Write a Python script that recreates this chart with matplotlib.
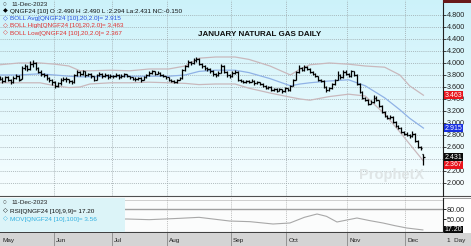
import numpy as np
import pandas as pd
import matplotlib
matplotlib.use("Agg")
import matplotlib.pyplot as plt
import matplotlib.transforms as mtransforms
from matplotlib.patches import Rectangle

# ---------------- data ----------------
holidays = ["2023-05-29", "2023-06-19", "2023-07-04", "2023-09-04", "2023-11-23"]
dates = pd.bdate_range("2023-05-03", "2023-12-11", freq="C", holidays=holidays)

opens = [3.76, 3.74, 3.70, 3.76, 3.72, 3.68, 3.75, 3.78, 3.74, 3.92,
         3.95, 3.90, 3.98, 4.00, 3.92, 3.85, 3.82, 3.80, 3.75, 3.72,
         3.68, 3.62, 3.66, 3.72, 3.74, 3.73, 3.70, 3.68, 3.80, 3.85,
         3.82, 3.86, 3.80, 3.82, 3.78, 3.72, 3.80, 3.82, 3.78, 3.80,
         3.77, 3.79, 3.78, 3.80, 3.76, 3.79, 3.81, 3.78, 3.76, 3.74,
         3.73, 3.75, 3.72, 3.76, 3.80, 3.84, 3.86, 3.82, 3.84, 3.80,
         3.78, 3.76, 3.72, 3.70, 3.68, 3.72, 3.75, 3.88, 3.95, 4.02,
         4.00, 4.05, 4.07, 3.98, 3.95, 3.92, 3.90, 3.86, 3.82, 3.80,
         3.84, 3.95, 3.85, 3.80, 3.78, 3.83, 3.85, 3.72, 3.70, 3.68,
         3.70, 3.69, 3.70, 3.66, 3.68, 3.65, 3.62, 3.58, 3.60, 3.55,
         3.57, 3.54, 3.56, 3.53, 3.58, 3.55, 3.62, 3.72, 3.85, 3.92,
         3.88, 3.94, 3.90, 3.85, 3.82, 3.78, 3.72, 3.70, 3.60, 3.55,
         3.58, 3.65, 3.72, 3.80, 3.76, 3.85, 3.82, 3.78, 3.86, 3.80,
         3.65, 3.52, 3.42, 3.38, 3.32, 3.35, 3.42, 3.38, 3.28, 3.18,
         3.12, 3.08, 3.10, 3.02, 2.95, 2.92, 2.85, 2.82, 2.80, 2.78,
         2.82, 2.70, 2.60, 2.49]
highs = [3.79, 3.76, 3.79, 3.78, 3.74, 3.78, 3.81, 3.80, 3.95, 3.98,
         3.97, 4.03, 4.05, 4.01, 3.94, 3.88, 3.84, 3.81, 3.77, 3.73,
         3.70, 3.69, 3.75, 3.77, 3.76, 3.74, 3.72, 3.82, 3.88, 3.87,
         3.89, 3.87, 3.84, 3.83, 3.79, 3.82, 3.85, 3.83, 3.83, 3.81,
         3.81, 3.80, 3.83, 3.81, 3.81, 3.83, 3.82, 3.79, 3.77, 3.76,
         3.77, 3.76, 3.78, 3.82, 3.86, 3.88, 3.87, 3.86, 3.85, 3.82,
         3.79, 3.77, 3.74, 3.71, 3.74, 3.77, 3.90, 3.97, 4.05, 4.04,
         4.08, 4.10, 4.08, 4.00, 3.97, 3.94, 3.91, 3.88, 3.84, 3.87,
         3.98, 3.96, 3.86, 3.81, 3.86, 3.88, 3.86, 3.74, 3.72, 3.72,
         3.72, 3.73, 3.71, 3.70, 3.69, 3.66, 3.63, 3.62, 3.61, 3.59,
         3.58, 3.58, 3.57, 3.60, 3.59, 3.64, 3.74, 3.87, 3.96, 3.94,
         3.97, 3.95, 3.91, 3.87, 3.83, 3.79, 3.74, 3.71, 3.62, 3.60,
         3.67, 3.74, 3.86, 3.82, 3.89, 3.88, 3.84, 3.89, 3.87, 3.81,
         3.66, 3.54, 3.44, 3.40, 3.38, 3.47, 3.45, 3.39, 3.30, 3.20,
         3.14, 3.13, 3.11, 3.04, 2.97, 2.94, 2.87, 2.85, 2.82, 2.86,
         2.84, 2.72, 2.62, 2.49]
lows = [3.71, 3.67, 3.69, 3.70, 3.65, 3.67, 3.73, 3.70, 3.73, 3.89,
        3.87, 3.89, 3.94, 3.88, 3.83, 3.79, 3.77, 3.72, 3.69, 3.64,
        3.59, 3.60, 3.64, 3.70, 3.69, 3.67, 3.65, 3.67, 3.78, 3.79,
        3.80, 3.77, 3.78, 3.75, 3.70, 3.71, 3.78, 3.75, 3.76, 3.74,
        3.75, 3.75, 3.77, 3.73, 3.75, 3.77, 3.76, 3.73, 3.71, 3.70,
        3.72, 3.69, 3.71, 3.75, 3.79, 3.82, 3.80, 3.81, 3.78, 3.76,
        3.73, 3.70, 3.68, 3.66, 3.67, 3.71, 3.74, 3.86, 3.93, 3.96,
        3.99, 4.02, 3.96, 3.92, 3.89, 3.87, 3.83, 3.79, 3.77, 3.79,
        3.83, 3.83, 3.77, 3.75, 3.77, 3.82, 3.70, 3.68, 3.66, 3.67,
        3.67, 3.68, 3.64, 3.65, 3.63, 3.60, 3.56, 3.57, 3.53, 3.54,
        3.52, 3.53, 3.50, 3.52, 3.53, 3.54, 3.61, 3.71, 3.84, 3.86,
        3.87, 3.88, 3.83, 3.80, 3.76, 3.70, 3.68, 3.58, 3.52, 3.53,
        3.57, 3.64, 3.71, 3.74, 3.75, 3.80, 3.76, 3.77, 3.78, 3.63,
        3.50, 3.40, 3.36, 3.30, 3.31, 3.34, 3.36, 3.26, 3.16, 3.10,
        3.06, 3.07, 3.00, 2.93, 2.90, 2.83, 2.80, 2.78, 2.75, 2.77,
        2.68, 2.58, 2.55, 2.294]
closes = [3.74, 3.70, 3.76, 3.72, 3.68, 3.75, 3.78, 3.72, 3.92, 3.95,
          3.90, 3.98, 4.00, 3.92, 3.85, 3.82, 3.80, 3.75, 3.72, 3.68,
          3.62, 3.66, 3.72, 3.74, 3.73, 3.70, 3.68, 3.80, 3.85, 3.82,
          3.86, 3.80, 3.82, 3.78, 3.72, 3.80, 3.82, 3.78, 3.80, 3.77,
          3.79, 3.78, 3.80, 3.76, 3.79, 3.81, 3.78, 3.76, 3.74, 3.73,
          3.75, 3.72, 3.76, 3.80, 3.84, 3.86, 3.82, 3.84, 3.80, 3.78,
          3.76, 3.72, 3.70, 3.68, 3.72, 3.75, 3.88, 3.95, 4.02, 4.00,
          4.05, 4.07, 3.98, 3.95, 3.92, 3.90, 3.86, 3.82, 3.80, 3.84,
          3.95, 3.85, 3.80, 3.78, 3.83, 3.85, 3.72, 3.70, 3.68, 3.70,
          3.69, 3.70, 3.66, 3.68, 3.65, 3.62, 3.58, 3.60, 3.55, 3.57,
          3.54, 3.56, 3.53, 3.58, 3.55, 3.62, 3.72, 3.85, 3.92, 3.88,
          3.94, 3.90, 3.85, 3.82, 3.78, 3.72, 3.70, 3.60, 3.55, 3.58,
          3.65, 3.72, 3.80, 3.76, 3.85, 3.82, 3.78, 3.86, 3.80, 3.65,
          3.52, 3.42, 3.38, 3.32, 3.35, 3.42, 3.38, 3.28, 3.18, 3.12,
          3.08, 3.10, 3.02, 2.95, 2.92, 2.85, 2.82, 2.80, 2.78, 2.82,
          2.70, 2.60, 2.58, 2.431]

# Bollinger band readings (bar position, value)
band_pos = [1, 8, 15.6, 21, 26, 30, 33.6, 41, 48, 55, 62, 68, 73, 79, 86, 91,
            98.6, 106, 109.5, 113, 120, 127, 133, 140, 145.5, 149, 154]
boll_high = [3.97, 4.00, 4.00, 3.98, 3.95, 3.87, 3.87, 3.88, 3.87, 3.90, 3.90,
             3.95, 4.08, 4.10, 4.10, 4.06, 3.95, 3.80, 3.90, 3.97, 4.00, 3.98,
             3.95, 3.93, 3.80, 3.62, 3.463]
boll_avg = [3.80, 3.80, 3.82, 3.80, 3.78, 3.77, 3.77, 3.78, 3.78, 3.78, 3.78,
            3.80, 3.86, 3.88, 3.88, 3.84, 3.74, 3.62, 3.65, 3.67, 3.70, 3.72,
            3.62, 3.42, 3.22, 3.08, 2.915]
boll_low = [3.67, 3.67, 3.67, 3.62, 3.59, 3.60, 3.65, 3.67, 3.67, 3.68, 3.67,
            3.66, 3.64, 3.65, 3.65, 3.58, 3.50, 3.43, 3.40, 3.38, 3.44, 3.48,
            3.45, 3.15, 2.85, 2.65, 2.367]

# RSI readings (bar position, value)
rsi_pos = [1, 15, 30, 47, 55, 66, 73, 84, 91.4, 99.7, 105.8, 111, 115.6, 119,
           122.8, 130, 134.7, 139.4, 143.7, 148, 153.8]
rsi_val = [52, 55, 50, 50, 48, 52, 55, 44, 42, 35, 38, 55, 65, 58, 41, 53, 45,
           38, 30, 23, 17.2]

price_ticks = [2.0, 2.2, 2.4, 2.6, 2.8, 3.0, 3.2, 3.4, 3.6, 3.8, 4.0, 4.2, 4.4, 4.6, 4.8]
hidden_ticks = [2.4]   # covered by the last-price box in the reference
month_labels = ["May", "Jun", "Jul", "Aug", "Sep", "Oct", "Nov", "Dec"]

# ---------------- layout ----------------
W, H = 471, 246
fig = plt.figure(figsize=(W / 100, H / 100), dpi=100)
fig.patch.set_facecolor("white")

def fx(px):
    return px / W

def fy(py):
    return 1 - py / H

pos = np.arange(1, len(closes) + 1)
month_start = [pos[i] for i in range(len(dates)) if i > 0 and dates[i].month != dates[i - 1].month]
xmin, xmax = 1.14, 161.07

NARROW = ["Liberation Sans Narrow", "Liberation Sans", "DejaVu Sans"]
SANS = ["Liberation Sans", "DejaVu Sans"]

# background gradient for the price panel (full width)
bg = fig.add_axes([0, fy(196), 1, 196 / H], zorder=0)
grad = np.linspace(0, 1, 256)[:, None]
top = np.array([0.80, 0.95, 0.98])
bot = np.array([0.97, 0.995, 1.0])
img = top[None, None, :] * (1 - grad[:, :, None]) + bot[None, None, :] * grad[:, :, None]
bg.imshow(img, aspect="auto", extent=[0, 1, 0, 1])
bg.set_axis_off()

# price axes
ax = fig.add_axes([0, fy(196), fx(443), 196 / H], zorder=2)
ax.set_facecolor("none")
ax.set_xlim(xmin, xmax)
ax.set_ylim(1.783, 5.05)
for s in ["top", "left", "bottom"]:
    ax.spines[s].set_visible(False)
ax.spines["right"].set_color("#202020")
ax.spines["right"].set_linewidth(0.8)
ax.yaxis.tick_right()
ax.set_yticks(price_ticks)
ax.set_yticklabels(["" if v in hidden_ticks else f"{v:.3f}" for v in price_ticks],
                   fontsize=5.2, family=SANS, color="#202020")
ax.tick_params(axis="y", length=2, width=0.6, pad=0.5, colors="#202020")
ax.set_xticks([])
for v in price_ticks:
    ax.axhline(v, color="#9aa4a8", lw=0.5, ls=(0, (1.5, 1.5)), zorder=1)
for m in month_start:
    ax.axvline(m - 0.5, color="#9aa4a8", lw=0.5, ls=(0, (1.5, 1.5)), zorder=1)

# Bollinger bands
ax.plot(band_pos, boll_high, color="#c9b8bc", lw=0.9, zorder=3)
ax.plot(band_pos, boll_low, color="#c9b8bc", lw=0.9, zorder=3)
ax.plot(band_pos, boll_avg, color="#8fb2e6", lw=0.9, zorder=3)

# OHLC bars
ax.vlines(pos, lows, highs, color="black", lw=0.9, zorder=4)
ax.hlines(opens, pos - 0.6, pos, color="black", lw=0.9, zorder=4)
ax.hlines(closes, pos, pos + 0.6, color="black", lw=0.9, zorder=4)

# watermark
ax.text(142.5, 2.13, "ProphetX", fontsize=10.5, fontweight="bold", color="#dfe5e6",
        family=SANS, ha="center", va="center", zorder=2)

# title
fig.text(fx(260), fy(35), "JANUARY NATURAL GAS DAILY", fontsize=5.8, fontweight="bold",
         family=SANS, ha="center", va="center", color="#101010")

# legend text
fig.text(fx(11), fy(4), "11-Dec-2023", fontsize=4.6, family=SANS, va="center", color="#202020")
fig.text(fx(3), fy(4.5), "\u25CB", fontsize=3, family="DejaVu Sans", va="center", color="#404040")
leg = [
    ("\u25C6", "black", "QNGF24 [10] O :2.490 H :2.490 L :2.294 La:2.431 NC:-0.150", "#101010", 11),
    ("\u25C7", "#2040e0", "BOLL Avg[QNGF24 [10],20,2.0]= 2.915", "#2850e0", 18.3),
    ("\u25C7", "#e03030", "BOLL High[QNGF24 [10],20,2.0]= 3.463", "#e03030", 25.6),
    ("\u25C7", "#e03030", "BOLL Low[QNGF24 [10],20,2.0]= 2.367", "#e03030", 33),
]
for mk, mc, txt, tc, yy in leg:
    fig.text(fx(2.5), fy(yy), mk, fontsize=4.5, family="DejaVu Sans", va="center", color=mc)
    fig.text(fx(10), fy(yy), txt, fontsize=4.6, family=NARROW, va="center", color=tc)

# value boxes on right axis
trans = mtransforms.blended_transform_factory(ax.transAxes, ax.transData)
def vbox(axis, tr, y, s, fc, tc="white", z=6):
    axis.text(1.003, y, s, transform=tr, fontsize=5.0, family=SANS, color=tc, va="center",
              ha="left", zorder=z, clip_on=False,
              bbox=dict(boxstyle="square,pad=0.1", fc=fc, ec="none"))

vbox(ax, trans, boll_high[-1], "3.463", "#e8141c")
vbox(ax, trans, boll_avg[-1], "2.915", "#1830e0")
vbox(ax, trans, 2.31, "2.367", "#e8141c", z=5)
vbox(ax, trans, closes[-1], "2.431", "#0a0a0a", z=7)
fig.patches.append(Rectangle((fx(443), fy(3)), 1 - fx(443), 3 / H, transform=fig.transFigure,
                             fc="#6a1a1a", ec="none", zorder=5))

# panel separator
fig.add_artist(plt.Line2D([0, 1], [fy(196), fy(196)], color="#505050", lw=0.8))
fig.add_artist(plt.Line2D([0, 1], [fy(197.6), fy(197.6)], color="#909090", lw=0.6))

# RSI panel
ar = fig.add_axes([0, fy(232), fx(443), 34 / H], zorder=2)
ar.set_facecolor("#fbfcfc")
ar.set_xlim(xmin, xmax)
ar.set_ylim(11, 113)
for s in ["top", "left"]:
    ar.spines[s].set_visible(False)
ar.spines["bottom"].set_color("#404040")
ar.spines["bottom"].set_linewidth(0.8)
ar.spines["right"].set_color("#202020")
ar.spines["right"].set_linewidth(0.8)
ar.yaxis.tick_right()
ar.set_yticks([80, 50])
ar.set_yticklabels(["80.00", "50.00"], fontsize=5.2, family=SANS, color="#202020")
ar.tick_params(axis="y", length=2, width=0.6, pad=0.5)
ar.set_xticks([])
ar.axhline(80, color="#a0a0a0", lw=1.0, zorder=1)
ar.axhline(108, color="#c8c8c8", lw=0.6, zorder=1)
for m in month_start:
    ar.axvline(m - 0.5, color="#a8a8a8", lw=0.5, ls=(0, (1.5, 1.5)), zorder=1)
ar.plot(rsi_pos, rsi_val, color="#a8a8a8", lw=0.8, zorder=2)
ar.add_patch(Rectangle((0, 0), fx(125) / fx(443), 1, transform=ar.transAxes,
                       fc="#dcf4f8", ec="none", zorder=3))
trans_r = mtransforms.blended_transform_factory(ar.transAxes, ar.transData)
vbox(ar, trans_r, 17.2, "17.20", "#0a0a0a")
fig.text(fx(11), fy(203), "11-Dec-2023", fontsize=4.6, family=SANS, va="center", color="#202020", zorder=5)
fig.text(fx(3), fy(202.5), "\u25CB", fontsize=3, family="DejaVu Sans", va="center", color="#404040", zorder=5)
fig.text(fx(2.5), fy(211), "\u25C7", fontsize=4.5, family="DejaVu Sans", va="center", color="black", zorder=5)
fig.text(fx(10), fy(211), "RSI[QNGF24 [10],9,9]= 17.20", fontsize=4.6, family=NARROW, va="center", color="#101010", zorder=5)
fig.text(fx(2.5), fy(219), "\u25C7", fontsize=4.5, family="DejaVu Sans", va="center", color="#30b0e0", zorder=5)
fig.text(fx(10), fy(219), "MOV[QNGF24 [10],100]= 3.56", fontsize=4.6, family=NARROW, va="center", color="#30b0e0", zorder=5)

# date bar
ad = fig.add_axes([0, 0, fx(443), 13 / H], zorder=2)
ad.set_facecolor("#d4d4d4")
ad.set_xlim(xmin, xmax)
ad.set_ylim(0, 1)
ad.set_xticks([])
ad.set_yticks([])
for s in ad.spines.values():
    s.set_visible(False)
starts = [xmin + 0.5] + month_start
for m, lab in zip(starts, month_labels):
    if m != starts[0]:
        ad.axvline(m - 0.5, color="#888888", lw=0.6)
    ad.text(m + 0.3, 0.45, lab, fontsize=4.6, family=SANS, va="center", ha="left", color="#202020")
adr = fig.add_axes([fx(443), 0, 1 - fx(443), 13 / H], zorder=2)
adr.set_facecolor("#d4d4d4")
adr.set_xticks([])
adr.set_yticks([])
for s in adr.spines.values():
    s.set_visible(False)
adr.text(0.15, 0.45, "1  Day", fontsize=4.6, family=SANS, va="center", ha="left", color="#202020",
         transform=adr.transAxes)
fig.add_artist(plt.Line2D([fx(443), fx(443)], [0, fy(232)], color="#404040", lw=0.8))

fig.savefig("out.png", dpi=100)
